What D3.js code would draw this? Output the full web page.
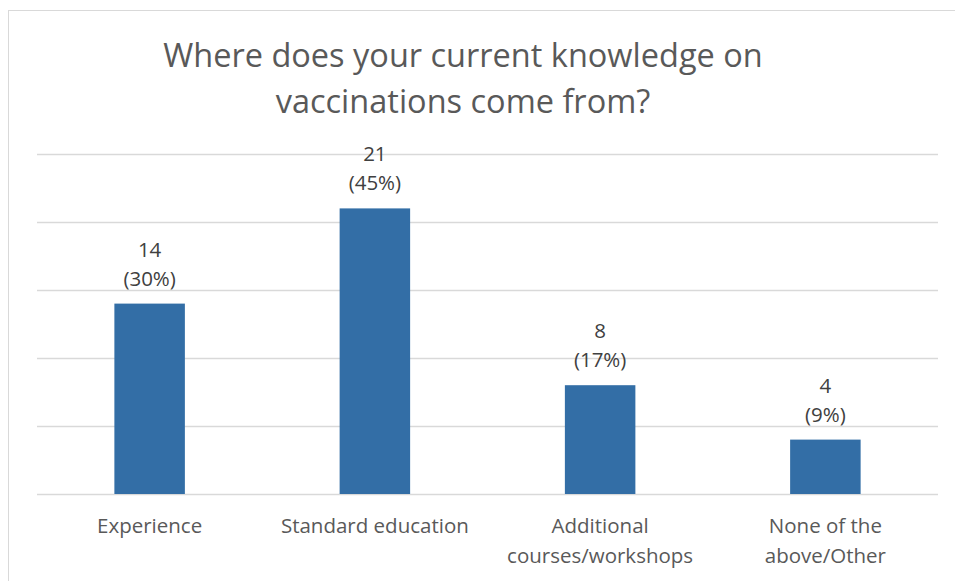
<!DOCTYPE html>
<head>
  <meta charset="utf-8">
  <script src="https://d3js.org/d3.v7.min.js"></script>
  <style>
    body { margin: 0; background: #fff; }
    text { font-family: "Open Sans", sans-serif; }
  </style>
</head>
<body>
  <svg width="955" height="581"></svg>
  <script>
  // data
  var categories = ["Experience", "Standard education", "Additional courses/workshops", "None of the above/Other"];
  var catLines = [["Experience"], ["Standard education"], ["Additional", "courses/workshops"], ["None of the", "above/Other"]];
  var counts = [14, 21, 8, 4];
  var percents = ["30%", "45%", "17%", "9%"];
  var yTicks = [0, 5, 10, 15, 20, 25];
  var titleLines = ["Where does your current knowledge on", "vaccinations come from?"];

  var svg = d3.select('svg');
  var margin = {top: 154, left: 37, right: 17, bottom: 87};
  var width = 955 - margin.left - margin.right;
  var height = 581 - margin.top - margin.bottom;

  // chart border
  svg.append('rect')
    .attr('x', 8.5).attr('y', 10.5)
    .attr('width', 960).attr('height', 600)
    .attr('fill', 'none')
    .attr('stroke', '#d9d9d9');

  var x = d3.scaleBand().domain(categories).range([0, width])
    .paddingInner(0.687).paddingOuter(0.3435);
  var y = d3.scaleLinear().domain([0, 25]).range([height, 0]);

  var g = svg.append('g')
    .attr('transform', 'translate(' + margin.left + ',' + margin.top + ')');

  // gridlines
  g.selectAll('.grid').data(yTicks).enter().append('line')
    .attr('class', 'grid')
    .attr('x1', 0).attr('x2', width)
    .attr('y1', function(d) { return Math.round(y(d)) + 0.5; })
    .attr('y2', function(d) { return Math.round(y(d)) + 0.5; })
    .attr('stroke', '#d9d9d9')
    .attr('stroke-width', 1.3);

  // bars
  g.selectAll('.bar').data(categories).enter().append('rect')
    .attr('class', 'bar')
    .attr('x', function(d) { return x(d); })
    .attr('width', x.bandwidth())
    .attr('y', function(d, i) { return y(counts[i]); })
    .attr('height', function(d, i) { return y(0) - y(counts[i]); })
    .attr('fill', '#336ea6');

  // data labels
  var lab = g.selectAll('.lab').data(categories).enter().append('text')
    .attr('class', 'lab')
    .attr('text-anchor', 'middle')
    .attr('fill', '#404040')
    .style('font-size', '20.5px');
  lab.append('tspan')
    .attr('x', function(d) { return x(d) + x.bandwidth() / 2; })
    .attr('y', function(d, i) { return y(counts[i]) - 47; })
    .text(function(d, i) { return counts[i]; });
  lab.append('tspan')
    .attr('x', function(d) { return x(d) + x.bandwidth() / 2; })
    .attr('y', function(d, i) { return y(counts[i]) - 18; })
    .text(function(d, i) { return '(' + percents[i] + ')'; });

  // category labels
  var cat = g.selectAll('.cat').data(categories).enter().append('text')
    .attr('class', 'cat')
    .attr('text-anchor', 'middle')
    .attr('fill', '#595959')
    .style('font-size', '20.5px');
  cat.each(function(d, i) {
    var t = d3.select(this);
    catLines[i].forEach(function(line, j) {
      t.append('tspan')
        .attr('x', x(d) + x.bandwidth() / 2)
        .attr('y', height + 39 + j * 30)
        .text(line);
    });
  });

  // title
  var title = svg.append('text')
    .attr('text-anchor', 'middle')
    .attr('fill', '#595959')
    .style('font-size', '32.5px');
  titleLines.forEach(function(line, j) {
    title.append('tspan')
      .attr('x', 463)
      .attr('y', 67 + j * 46)
      .text(line);
  });
  </script>
</body>
